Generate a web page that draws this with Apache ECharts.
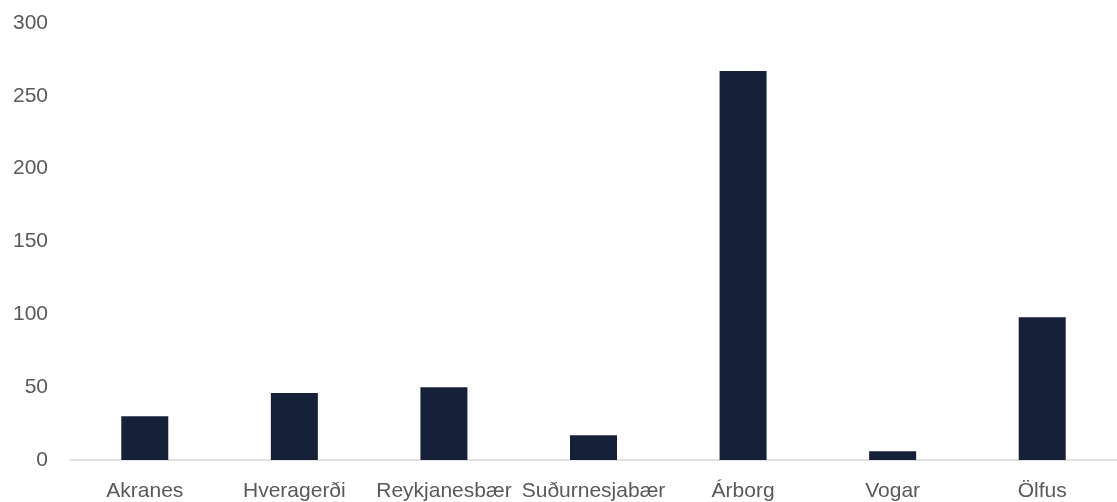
<!DOCTYPE html>
<html><head><meta charset="utf-8">
<script src="https://cdn.jsdelivr.net/npm/echarts@6/dist/echarts.min.js"></script>
<style>html,body{margin:0;padding:0;background:#fff}#c{width:1117px;height:502px}</style>
</head><body><div id="c"></div>
<script>
const categories = ["Akranes","Hveragerði","Reykjanesbær","Suðurnesjabær","Árborg","Vogar","Ölfus"];
const values = [30,46,50,17,267,6,98];
const chart = echarts.init(document.getElementById('c'));
chart.setOption({
  animation:false,
  grid:{left:70,top:23,width:1057,bottom:41,containLabel:false},
  xAxis:{type:'category',data:categories,
    axisLine:{lineStyle:{color:'#d9d9d9',width:1.5}},axisTick:{show:false},
    axisLabel:{color:'#595959',fontSize:21,fontFamily:'Liberation Sans, Arial, sans-serif',margin:21,interval:0}},
  yAxis:{type:'value',min:0,max:300,interval:50,
    splitLine:{show:false},axisLine:{show:false},axisTick:{show:false},
    axisLabel:{color:'#595959',fontSize:21,fontFamily:'Liberation Sans, Arial, sans-serif',margin:22}},
  series:[{type:'bar',data:values,barWidth:47,itemStyle:{color:'#162139'}}]
});
</script></body></html>
